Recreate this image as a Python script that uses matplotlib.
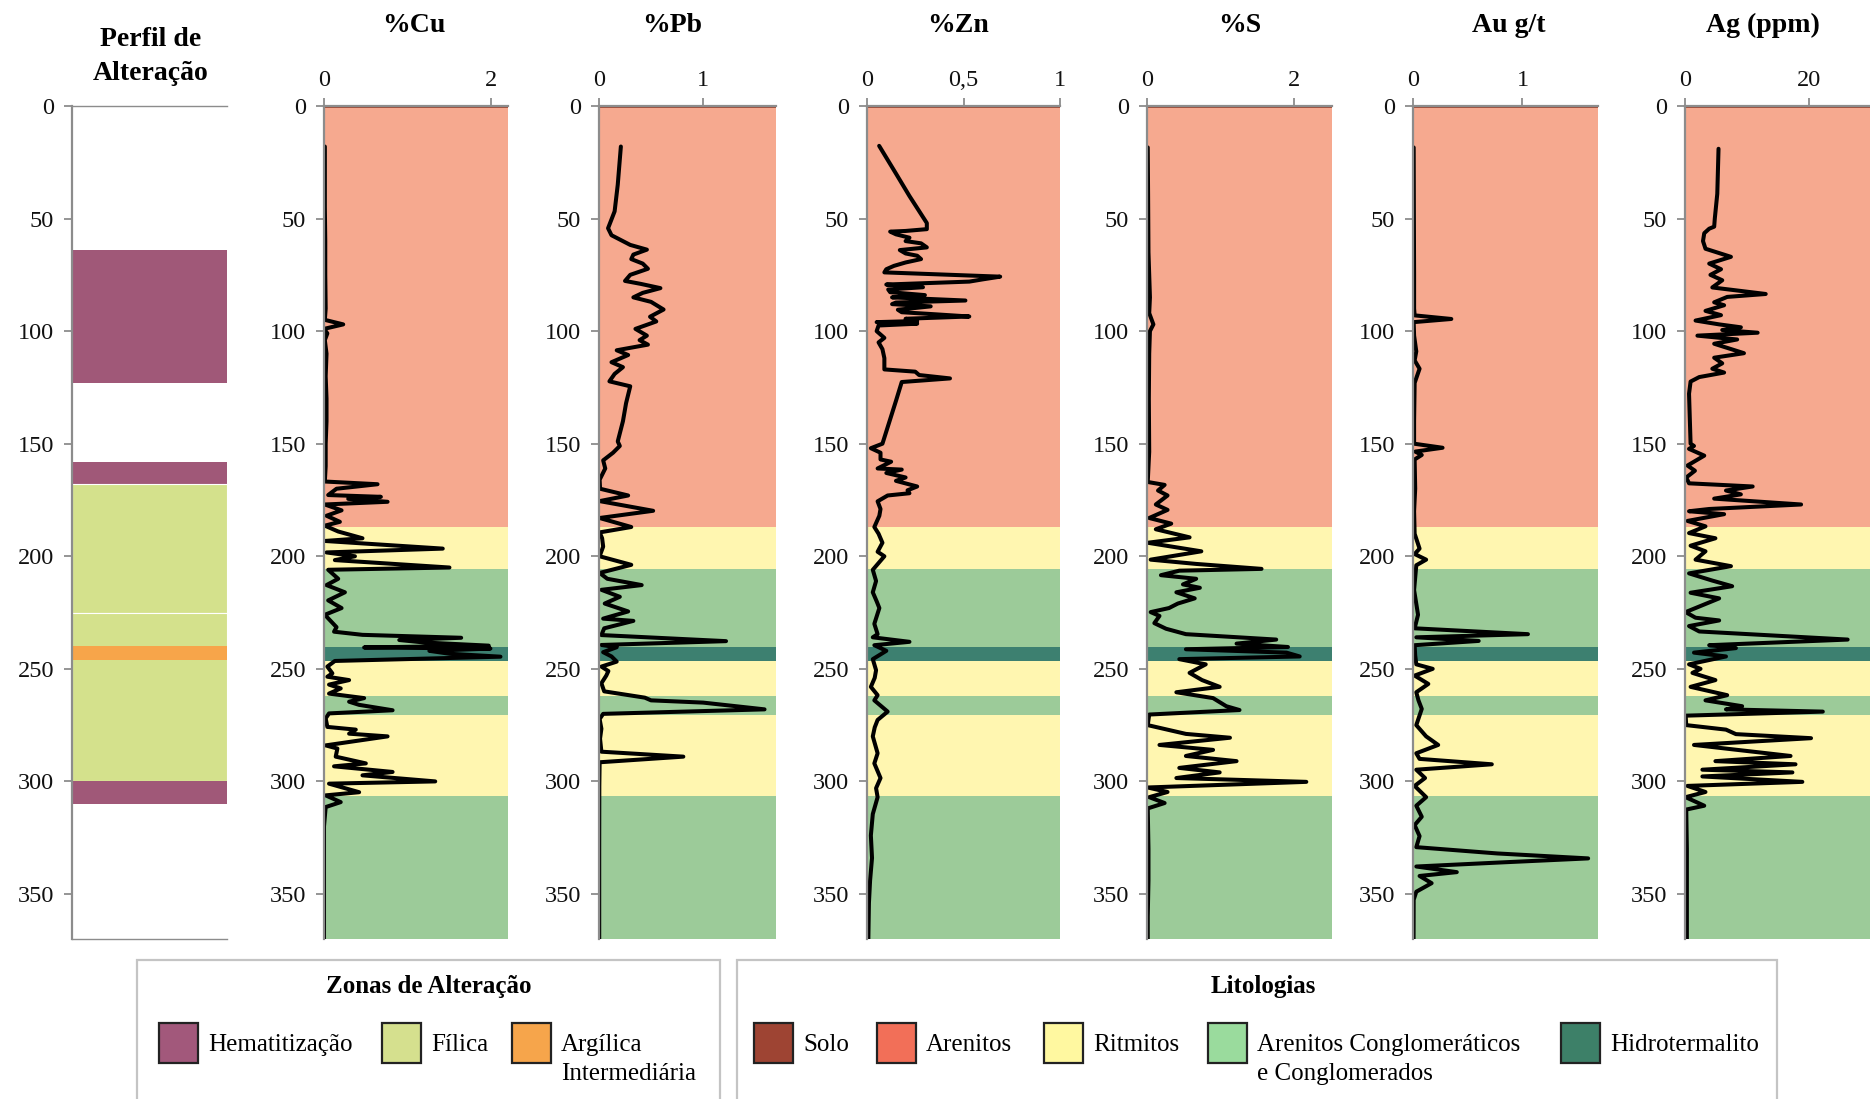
import matplotlib
matplotlib.use('Agg')
import matplotlib.pyplot as plt
from matplotlib.patches import Rectangle

plt.rcParams['font.family'] = ['Liberation Serif', 'DejaVu Serif']

# --- perfil de alteração (topo, base em metros) ---
alter_zone = ['Hematitização', 'Hematitização', 'Fílica', 'Fílica',
              'Argílica', 'Hematitização']
alter_top = [64, 158, 168, 225, 240, 300]
alter_base = [123, 168, 225, 300, 246, 310]

# --- litologias do furo ---
lito_name = ['Solo', 'Arenitos', 'Ritmitos', 'Conglomerados', 'Hidrotermalito',
             'Ritmitos', 'Conglomerados', 'Ritmitos', 'Conglomerados']
lito_top = [0, 1, 187, 205.5, 240.5, 246.3, 262, 270.5, 306.5]
lito_base = [1, 187, 205.5, 240.5, 246.3, 262, 270.5, 306.5, 371]

# --- teores (profundidade, valor) ---
cu_log = [(18, 0.01), (30, 0.01), (45, 0.01), (60, 0.015), (75, 0.015), (90, 0.02),
          (95, 0.01), (97, 0.23), (99, 0.0), (101, 0.04), (104, 0.01), (110, 0.03),
          (120, 0.02), (130, 0.03), (140, 0.03), (150, 0.02), (160, 0.02), (166.8, 0.01),
          (168, 0.64), (170, 0.15), (172.8, 0.05), (173.6, 0.68), (174.5, 0.29),
          (175.8, 0.76), (177, 0.01), (179.6, 0.21), (182, 0.03), (184.7, 0.19),
          (186.4, 0.01), (189, 0.17), (192, 0.46), (193.2, 0.01), (196.6, 1.42),
          (198.3, 0.03), (200, 0.37), (201.7, 0.13), (205, 1.50), (206, 0.05),
          (210, 0.17), (212.8, 0.03), (216, 0.25), (219.6, 0.05), (223, 0.21),
          (226, 0.01), (231.5, 0.15), (233.5, 0.12), (234.9, 0.46), (236.2, 1.64),
          (237.2, 0.9), (238.3, 1.2), (239.7, 1.97), (240.5, 0.48), (241, 1.99),
          (242, 1.26), (243.3, 1.5), (244.6, 2.11), (246.5, 0.13), (249, 0.04),
          (252, 0.1), (253.5, 0.04), (255, 0.3), (257, 0.06), (258.7, 0.2),
          (261, 0.06), (263, 0.48), (264.6, 0.3), (266, 0.42), (268.4, 0.82),
          (269.8, 0.06), (272, 0.02), (275.8, 0.04), (277, 0.38), (278.8, 0.3),
          (280, 0.76), (284, 0.02), (285.4, 0.16), (289, 0.14), (292, 0.5),
          (293.3, 0.12), (295.8, 0.82), (297.3, 0.46), (300, 1.33), (301, 0.06),
          (304.8, 0.42), (306.2, 0.02), (309.2, 0.2), (311.4, 0.02), (320, 0.0),
          (340, 0.0), (370, 0.0)]

pb_log = [(18, 0.21), (35, 0.18), (46.8, 0.15), (54.3, 0.087), (57.4, 0.12), (61.7, 0.3),
          (63.8, 0.46), (66, 0.33), (68, 0.31), (70, 0.42), (72.3, 0.47), (75, 0.3),
          (77.7, 0.25), (79, 0.4), (80.9, 0.59), (83, 0.42), (85, 0.33), (87, 0.5),
          (90.4, 0.62), (93.6, 0.49), (95.7, 0.55), (99, 0.35), (102, 0.46), (104, 0.39),
          (106, 0.47), (108.5, 0.17), (110.6, 0.28), (113.8, 0.12), (116, 0.23),
          (119, 0.15), (122.3, 0.1), (124.5, 0.3), (132, 0.26), (140, 0.23), (149, 0.18),
          (151, 0.2), (154, 0.135), (157.4, 0.04), (161, 0.06), (166, 0.006), (170, 0.01),
          (173, 0.28), (175.5, 0.006), (179.8, 0.52), (183, 0.006), (187, 0.31),
          (189.4, 0.006), (192, 0.03), (195.7, 0.04), (200, 0.006), (203.8, 0.31),
          (207.4, 0.006), (210, 0.08), (212.8, 0.41), (214.9, 0.023), (218, 0.2),
          (221, 0.055), (224.5, 0.28), (227.7, 0.04), (228.7, 0.33), (232, 0.05),
          (235, 0.023), (237.7, 1.22), (239.4, 0.023), (240.4, 0.17), (242.6, 0.04),
          (244.5, 0.12), (246.8, 0.17), (249, 0.023), (251, 0.09), (253, 0.07),
          (256.4, 0.023), (260, 0.05), (262.8, 0.44), (264, 0.5), (265, 1.0),
          (268, 1.59), (270, 0.04), (272.3, 0.006), (276.6, 0.023), (281, 0.01),
          (286.8, 0.023), (289, 0.81), (291.5, 0.006), (302, 0.003), (330, 0.002),
          (370, 0.002)]

zn_log = [(17.7, 0.063), (30, 0.15), (40, 0.22), (48, 0.28), (52, 0.31), (54.7, 0.31),
          (55.5, 0.2), (55.8, 0.12), (57, 0.15), (58.5, 0.22), (60, 0.2), (61, 0.28),
          (62.8, 0.31), (64, 0.17), (65.5, 0.2), (66.5, 0.26), (68, 0.28), (69.5, 0.2),
          (71, 0.14), (72.5, 0.1), (73.9, 0.09), (75.8, 0.69), (77, 0.6), (78, 0.53),
          (79.3, 0.1), (80.5, 0.29), (81.5, 0.11), (82.7, 0.12), (84, 0.3), (85, 0.13),
          (86.4, 0.51), (87.3, 0.15), (88, 0.13), (89, 0.33), (90.5, 0.16), (91.6, 0.18),
          (92.5, 0.35), (93.5, 0.53), (94.5, 0.2), (95.5, 0.26), (96, 0.05), (96.7, 0.26),
          (97.5, 0.06), (100, 0.05), (103, 0.09), (105, 0.06), (108, 0.08), (112, 0.09),
          (117, 0.09), (118, 0.25), (119.5, 0.27), (121, 0.43), (122.6, 0.18),
          (131, 0.15), (150, 0.08), (152, 0.02), (154, 0.07), (157, 0.07), (158, 0.125),
          (161, 0.055), (161.5, 0.18), (163, 0.1), (165, 0.2), (166.5, 0.15), (169, 0.26),
          (170.7, 0.21), (172, 0.22), (173, 0.107), (175.6, 0.055), (179, 0.07),
          (182, 0.064), (187, 0.038), (190, 0.06), (194, 0.08), (198, 0.055), (200, 0.09),
          (203, 0.06), (206, 0.03), (211, 0.047), (216, 0.03), (220, 0.05), (223, 0.064),
          (230, 0.038), (234.6, 0.055), (236, 0.03), (238, 0.22), (239.5, 0.038),
          (242, 0.1), (245.7, 0.03), (250.6, 0.047), (254, 0.04), (258, 0.02),
          (261.7, 0.055), (264, 0.038), (269, 0.107), (272.7, 0.055), (276, 0.04),
          (280, 0.03), (287.5, 0.055), (292, 0.038), (298.5, 0.07), (303, 0.047),
          (307, 0.055), (314.5, 0.03), (324, 0.02), (334, 0.026), (344, 0.016),
          (354, 0.01), (370, 0.007)]

s_log = [(18.4, 0.01), (40, 0.015), (65, 0.02), (75, 0.03), (85, 0.04), (92, 0.03),
         (97, 0.087), (100, 0.04), (110, 0.03), (130, 0.025), (153.6, 0.03), (167, 0.01),
         (168.3, 0.24), (170.8, 0.15), (173, 0.28), (177, 0.12), (179.4, 0.28), (183, 0.03),
         (185.5, 0.33), (188, 0.12), (191.6, 0.58), (194, 0.01), (197.8, 0.74),
         (201.5, 0.05), (203.4, 0.67), (205.6, 1.56), (206.4, 0.44), (208.4, 0.19),
         (210, 0.67), (212.5, 0.49), (214, 0.72), (216, 0.4), (218.7, 0.65), (221, 0.42),
         (223, 0.3), (224.8, 0.05), (226.5, 0.17), (229.7, 0.1), (232.2, 0.26),
         (234.6, 0.53), (237, 1.76), (238.8, 1.22), (240.3, 1.92), (241.3, 0.53),
         (242.8, 1.9), (244.5, 2.08), (245.7, 0.44), (248, 0.8), (251.8, 0.58),
         (255, 0.75), (258, 0.99), (260.4, 0.4), (263, 0.9), (266.6, 1.08), (268.3, 1.26),
         (270.3, 0.03), (275, 0.01), (278.9, 0.53), (280.6, 1.13), (283.8, 0.17),
         (286, 0.9), (288.7, 0.53), (291, 1.22), (294, 0.44), (296, 0.99), (298.5, 0.4),
         (300.2, 2.17), (302.7, 0.01), (304.7, 0.28), (307, 0.03), (309.6, 0.24),
         (312, 0.01), (330, 0.02), (344, 0.02), (360, 0.01), (370, 0.01)]

au_log = [(18.4, 0.006), (50, 0.008), (75, 0.01), (90, 0.01), (93, 0.015), (94.6, 0.35),
          (96, 0.006), (102, 0.01), (109, 0.03), (113, 0.015), (116.7, 0.06), (123, 0.015),
          (140, 0.01), (150, 0.01), (151.8, 0.27), (153.5, 0.02), (155, 0.08), (157, 0.015),
          (170, 0.02), (180, 0.01), (190, 0.015), (196.6, 0.06), (199, 0.015),
          (201.5, 0.12), (204, 0.03), (215, 0.01), (226, 0.046), (232, 0.015),
          (234.6, 1.05), (236, 0.03), (237.6, 0.6), (239.5, 0.015), (244, 0.02),
          (248, 0.03), (250, 0.18), (253, 0.015), (256.7, 0.14), (260.4, 0.03),
          (264, 0.05), (267.8, 0.08), (275, 0.03), (280, 0.12), (283.8, 0.23),
          (287.5, 0.03), (290, 0.06), (292.4, 0.72), (294.8, 0.03), (298.5, 0.11),
          (302, 0.015), (307, 0.12), (310.8, 0.03), (315.7, 0.08), (319.4, 0.015),
          (324.3, 0.06), (329.2, 0.03), (332, 0.77), (334.2, 1.6), (336, 0.8),
          (337.8, 0.03), (340.3, 0.4), (342, 0.06), (345.2, 0.17), (349, 0.03),
          (352.6, 0.006), (370, 0.005)]

ag_log = [(19, 5.4), (39, 5.2), (50, 4.8), (53.6, 4.7), (54.5, 3.9), (56.5, 3.1), (60, 2.9),
          (63.4, 3.3), (67, 7.4), (70, 3.9), (72.5, 5.8), (75, 4.1), (77.4, 6.0), (80.6, 4.4),
          (83.5, 13.0), (84.8, 6.8), (87.2, 4.7), (88.5, 6.3), (91, 3.3), (92.9, 5.8),
          (95.3, 1.7), (97, 5.5), (98.3, 9.0), (99.5, 6.0), (100.7, 11.7), (102, 2.0),
          (103.7, 8.4), (105.6, 4.7), (109.8, 9.5), (111.8, 4.7), (114.3, 6.0), (116.7, 4.4),
          (118.4, 6.3), (120.4, 2.3), (122.4, 0.9), (127.8, 0.65), (150, 0.9), (151, 1.45),
          (152.3, 0.65), (155.3, 3.1), (159.7, 0.4), (162, 1.6), (165, 0.2), (167.6, 0.65),
          (169, 10.9), (170.8, 6.6), (172.5, 9.0), (174.4, 4.7), (177, 18.7), (179, 3.9),
          (180, 0.65), (181.3, 6.3), (184.3, 0.4), (186.7, 3.3), (189.7, 0.65), (192, 4.9),
          (195.3, 0.9), (197.8, 3.3), (201.5, 1.7), (204.4, 7.4), (207.6, 0.65),
          (210.8, 4.4), (213.3, 7.6), (216.2, 0.9), (218.7, 5.5), (224.8, 0.1),
          (227.3, 1.7), (228.5, 5.5), (231, 0.65), (233.4, 2.3), (237, 26.2), (239.5, 3.9),
          (240.8, 8.2), (242.8, 1.45), (244.5, 6.6), (248, 0.65), (250, 2.5), (251.8, 1.2),
          (255, 4.9), (258, 0.9), (261.7, 6.8), (264, 3.3), (266.6, 9.2), (268, 6.6),
          (269, 22.2), (270.8, 0.1), (275, 0.2), (277, 6.6), (279, 8.2), (280.8, 20.3),
          (283.8, 1.45), (288.7, 17.0), (291, 4.9), (292.4, 17.8), (294.8, 2.8),
          (296, 17.3), (297.8, 2.8), (300.2, 18.9), (302, 0.4), (304.7, 3.3), (307, 0.1),
          (310.8, 3.1), (312.5, 0.2), (330, 0.3), (370, 0.3)]

# cores
alter_fill = {'Hematitização': '#A05878', 'Fílica': '#D4E18C', 'Argílica': '#F7A54A'}
lito_fill = {'Solo': '#A0503C', 'Arenitos': '#F6A98F', 'Ritmitos': '#FFF6B0',
             'Conglomerados': '#9CCB99', 'Hidrotermalito': '#3D8070'}
GRAY = '#8C8C8C'

W, H = 1870, 1099
fig = plt.figure(figsize=(W / 100, H / 100), dpi=100)


def px_box(x0, x1, top=106, bottom=939):
    return [x0 / W, 1 - bottom / H, (x1 - x0) / W, (bottom - top) / H]


def base_style(ax):
    ax.set_ylim(370, 0)
    ax.set_yticks(range(0, 351, 50))
    ax.spines['right'].set_visible(False)
    ax.spines['bottom'].set_visible(False)
    for s in ('left', 'top'):
        ax.spines[s].set_color(GRAY)
        ax.spines[s].set_linewidth(1.6)
        ax.spines[s].set_zorder(5)
    ax.tick_params(direction='out', length=6, width=1.3, color=GRAY,
                   labelsize=17.5, labelcolor='#111111')
    ax.tick_params(axis='y', pad=7)
    ax.xaxis.tick_top()
    ax.tick_params(axis='x', pad=5)


# perfil de alteração
ax0 = fig.add_axes(px_box(72, 227))
base_style(ax0)
ax0.set_xlim(0, 1)
ax0.set_xticks([])
ax0.spines['bottom'].set_visible(True)
ax0.spines['bottom'].set_color(GRAY)
ax0.spines['bottom'].set_linewidth(1.0)
ax0.spines['top'].set_linewidth(1.0)
for z, t, b in zip(alter_zone, alter_top, alter_base):
    ec = 'white' if z == 'Fílica' else 'none'
    ax0.axhspan(t, b, facecolor=alter_fill[z], edgecolor=ec, lw=0.8,
                zorder=2 if z == 'Argílica' else 1)
fig.text(151 / W, 1 - 39 / H, 'Perfil de', ha='center', va='center',
         fontsize=20, fontweight='bold')
fig.text(151 / W, 1 - 73 / H, 'Alteração', ha='center', va='center',
         fontsize=20, fontweight='bold')

panels = [
    ('%Cu', cu_log, 2.2, [0, 2], ['0', '2'], (324, 508), 414),
    ('%Pb', pb_log, 1.7, [0, 1], ['0', '1'], (599, 776), 672),
    ('%Zn', zn_log, 1.0, [0, 0.5, 1], ['0', '0,5', '1'], (867, 1060), 958),
    ('%S', s_log, 2.52, [0, 2], ['0', '2'], (1147, 1332), 1240),
    ('Au g/t', au_log, 1.69, [0, 1], ['0', '1'], (1413, 1598), 1509),
    ('Ag (ppm)', ag_log, 29.8, [0, 20], ['0', '20'], (1685, 1870), 1763),
]

for title, log, xmax, ticks, labels, (x0, x1), tx in panels:
    ax = fig.add_axes(px_box(x0, x1))
    base_style(ax)
    ax.set_xlim(0, xmax)
    ax.set_xticks(ticks)
    ax.set_xticklabels(labels)
    for n, t, b in zip(lito_name, lito_top, lito_base):
        ax.axhspan(t, b, color=lito_fill[n], lw=0, zorder=1)
    depth = [p[0] for p in log]
    value = [p[1] for p in log]
    ax.plot(value, depth, color='black', lw=2.9, solid_joinstyle='round',
            solid_capstyle='round', zorder=3)
    fig.text(tx / W, 1 - 25 / H, title, ha='center', va='center',
             fontsize=20, fontweight='bold')

# legendas
legend_groups = [
    ('Zonas de Alteração', (137, 720), 429,
     ['Hematitização', 'Fílica', 'Argílica\nIntermediária'],
     ['#A2587B', '#D5E08E', '#F6A54B'],
     [159, 382, 512]),
    ('Litologias', (737, 1777), 1263,
     ['Solo', 'Arenitos', 'Ritmitos', 'Arenitos Conglomeráticos\ne Conglomerados',
      'Hidrotermalito'],
     ['#9E4433', '#F26F58', '#FFF8A0', '#9ADB9D', '#3D8068'],
     [754, 877, 1044, 1208, 1561]),
]

for gtitle, (bx0, bx1), gx, glabels, gcolors, gpos in legend_groups:
    fig.add_artist(Rectangle((bx0 / W, 1 - 1115 / H), (bx1 - bx0) / W, (1115 - 960) / H,
                             transform=fig.transFigure, fill=False,
                             ec='#C4C4C4', lw=1.6))
    fig.text(gx / W, 1 - 987 / H, gtitle, ha='center', va='center',
             fontsize=18, fontweight='bold')
    for lab, col, px in zip(glabels, gcolors, gpos):
        fig.add_artist(Rectangle((px / W, 1 - 1063 / H), 39 / W, 40 / H,
                                 transform=fig.transFigure, fc=col,
                                 ec='#222222', lw=1.6))
        for i, line in enumerate(lab.split('\n')):
            fig.text((px + 49) / W, 1 - (1045 + 29 * i) / H, line,
                     ha='left', va='center', fontsize=18)

fig.savefig('out.png', dpi=100)
